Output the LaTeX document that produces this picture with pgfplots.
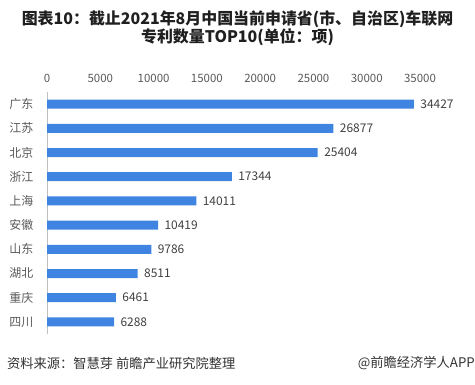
\documentclass[border=0pt]{standalone}
\usepackage{fontspec}
\setmainfont{Noto Sans CJK SC}
\usepackage{pgfplots}
\pgfplotsset{compat=1.18}
\definecolor{barblue}{RGB}{62,132,224}
\definecolor{ticktxt}{RGB}{89,89,89}
\definecolor{valtxt}{RGB}{64,64,64}
\begin{document}
\begin{tikzpicture}[x=1bp,y=1bp]
\path (0,0) rectangle (475,384);
\node[font=\fontsize{16}{17}\selectfont\bfseries, align=center, text=black!88, inner sep=0] at (237.5,355.5) {图表10：截止2021年8月中国当前申请省(市、自治区)车联网\\专利数量TOP10(单位：项)};
\begin{axis}[
  at={(47bp,50bp)}, anchor=south west,
  scale only axis, width=373bp, height=242bp,
  xmin=0, xmax=35000, ymin=-0.5, ymax=9.5,
  xbar, bar width=9bp,
  axis y line*=left, axis x line*=top,
  x axis line style={draw=none},
  y axis line style={draw=black!25, -},
  xtick={0,5000,...,35000}, scaled x ticks=false,
  xtick style={draw=none}, ytick style={draw=none},
  /pgf/number format/1000 sep={},
  /pgf/number format/assume math mode=true,
  xticklabel style={font=\fontsize{11.5}{11.5}\selectfont, text=ticktxt, yshift=6bp},
  ytick={0,...,9},
  yticklabels={四川,重庆,湖北,山东,安徽,上海,浙江,北京,江苏,广东},
  yticklabel style={font=\fontsize{12}{12}\selectfont, text=ticktxt, xshift=-6bp},
  nodes near coords,
  nodes near coords style={font=\fontsize{12}{12}\selectfont, text=valtxt, anchor=west, xshift=3bp},
]
\addplot[fill=barblue, draw=none] coordinates {
(6288,0) (6461,1) (8511,2) (9786,3) (10419,4) (14011,5) (17344,6) (25404,7) (26877,8) (34427,9)};
\end{axis}
\node[anchor=west, inner sep=0, font=\fontsize{13.3}{14}\selectfont, text=black!80] at (7,21) {资料来源：智慧芽 前瞻产业研究院整理};
\node[anchor=east, inner sep=0, font=\fontsize{13.3}{14}\selectfont, text=black!80] at (475,21) {@前瞻经济学人APP};
\end{tikzpicture}
\end{document}
